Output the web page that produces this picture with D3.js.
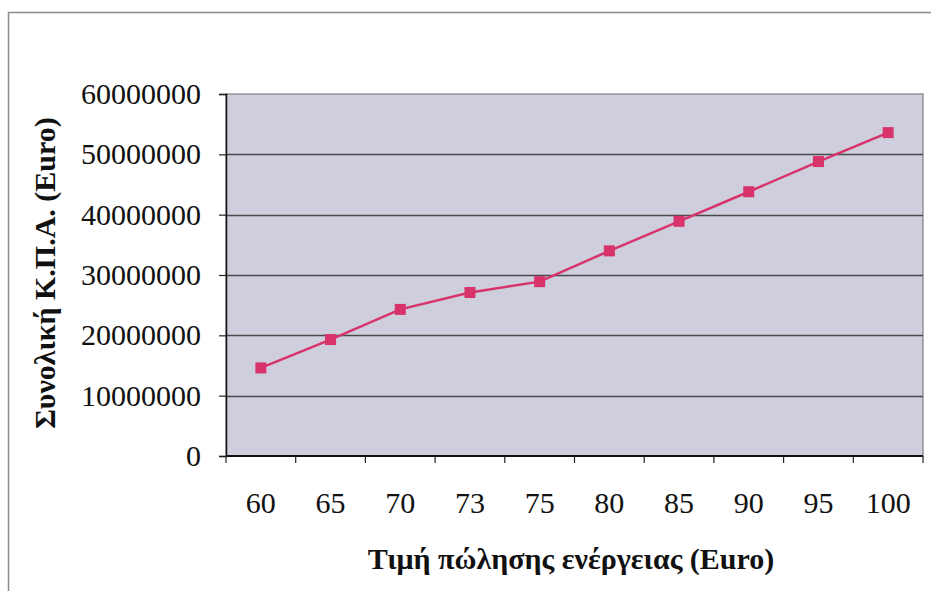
<!DOCTYPE html>
<html>
<head>
<meta charset="utf-8">
<script src="https://cdn.jsdelivr.net/npm/d3@7"></script>
<style>
  html, body { margin: 0; padding: 0; background: #ffffff; }
  svg { display: block; }
  text { font-family: "Liberation Serif", "Times New Roman", serif; fill: #111; }
</style>
</head>
<body>
<script>
// Selling price of energy (Euro) per scenario
const prices = ["60", "65", "70", "73", "75", "80", "85", "90", "95", "100"];
// Total NPV (Euro) for each price
const npvValues = [14600000, 19300000, 24300000, 27100000, 28900000,
                   34000000, 38900000, 43800000, 48800000, 53600000];
// Value axis ticks
const yTicks = [0, 10000000, 20000000, 30000000, 40000000, 50000000, 60000000];

const xTitle = "Τιμή πώλησης ενέργειας (Euro)";
const yTitle = "Συνολική Κ.Π.Α. (Euro)";

const W = 932, H = 591;
const plot = { left: 226, top: 94, right: 923, bottom: 456 };

const svg = d3.select("body").append("svg")
  .attr("width", W).attr("height", H);

// outer chart frame (left and top edges are visible)
svg.append("line").attr("x1", 8.5).attr("x2", 8.5).attr("y1", 12).attr("y2", H)
  .attr("stroke", "#8a8a8a").attr("stroke-width", 1.5);
svg.append("line").attr("x1", 8).attr("x2", 931).attr("y1", 12.5).attr("y2", 12.5)
  .attr("stroke", "#8a8a8a").attr("stroke-width", 1.5);

const x = d3.scaleBand().domain(prices)
  .range([plot.left, plot.right]).paddingInner(0).paddingOuter(0);
const y = d3.scaleLinear().domain([0, 60000000])
  .range([plot.bottom, plot.top]);

// plot area
svg.append("rect")
  .attr("x", plot.left).attr("y", plot.top)
  .attr("width", plot.right - plot.left).attr("height", plot.bottom - plot.top)
  .attr("fill", "#cecedd").attr("stroke", "#7f7f7f").attr("stroke-width", 1.2);

// horizontal gridlines
svg.append("g").selectAll("line")
  .data(yTicks.filter(d => d > 0 && d < 60000000))
  .join("line")
  .attr("x1", plot.left).attr("x2", plot.right)
  .attr("y1", d => Math.round(y(d)) + 0.5).attr("y2", d => Math.round(y(d)) + 0.5)
  .attr("stroke", "#4a4a4a").attr("stroke-width", 1.4);

// value axis
const yAxis = d3.axisLeft(y).tickValues(yTicks).tickSize(7).tickPadding(18)
  .tickFormat(d3.format("d"));
const gy = svg.append("g").attr("transform", `translate(${plot.left},0)`).call(yAxis);
gy.select(".domain").attr("stroke", "#111").attr("stroke-width", 1.5);
gy.selectAll(".tick line").attr("stroke", "#222").attr("stroke-width", 1.2);
gy.selectAll(".tick text")
  .style("font-family", "'Liberation Serif', 'Times New Roman', serif")
  .style("font-size", "30px").attr("fill", "#111");

// category axis: ticks between categories, labels centred in each band
const gx = svg.append("g").attr("transform", `translate(0,${plot.bottom})`);
gx.append("line").attr("x1", plot.left).attr("x2", plot.right)
  .attr("stroke", "#111").attr("stroke-width", 1.8);
const bounds = prices.map(p => x(p)).concat([plot.right]);
gx.selectAll("line.tk").data(bounds).join("line").attr("class", "tk")
  .attr("x1", d => d).attr("x2", d => d).attr("y1", 0).attr("y2", 7)
  .attr("stroke", "#222").attr("stroke-width", 1.2);
gx.selectAll("text").data(prices).join("text")
  .attr("x", d => x(d) + x.bandwidth() / 2).attr("y", 57)
  .attr("text-anchor", "middle")
  .style("font-size", "30px")
  .text(d => d);

// series line and square markers
const line = d3.line()
  .x((d, i) => x(prices[i]) + x.bandwidth() / 2)
  .y(d => y(d));
svg.append("path").datum(npvValues)
  .attr("d", line).attr("fill", "none")
  .attr("stroke", "#d8336b").attr("stroke-width", 2.5);
const ms = 11;
svg.append("g").selectAll("rect").data(npvValues).join("rect")
  .attr("x", (d, i) => x(prices[i]) + x.bandwidth() / 2 - ms / 2)
  .attr("y", d => y(d) - ms / 2)
  .attr("width", ms).attr("height", ms)
  .attr("fill", "#d8336b");

// axis titles
svg.append("text")
  .attr("x", 571).attr("y", 569)
  .attr("text-anchor", "middle")
  .style("font-size", "30px").style("font-weight", "bold")
  .text(xTitle);
svg.append("text")
  .attr("transform", `translate(55,273) rotate(-90)`)
  .attr("text-anchor", "middle")
  .style("font-size", "30px").style("font-weight", "bold")
  .text(yTitle);
</script>
</body>
</html>
